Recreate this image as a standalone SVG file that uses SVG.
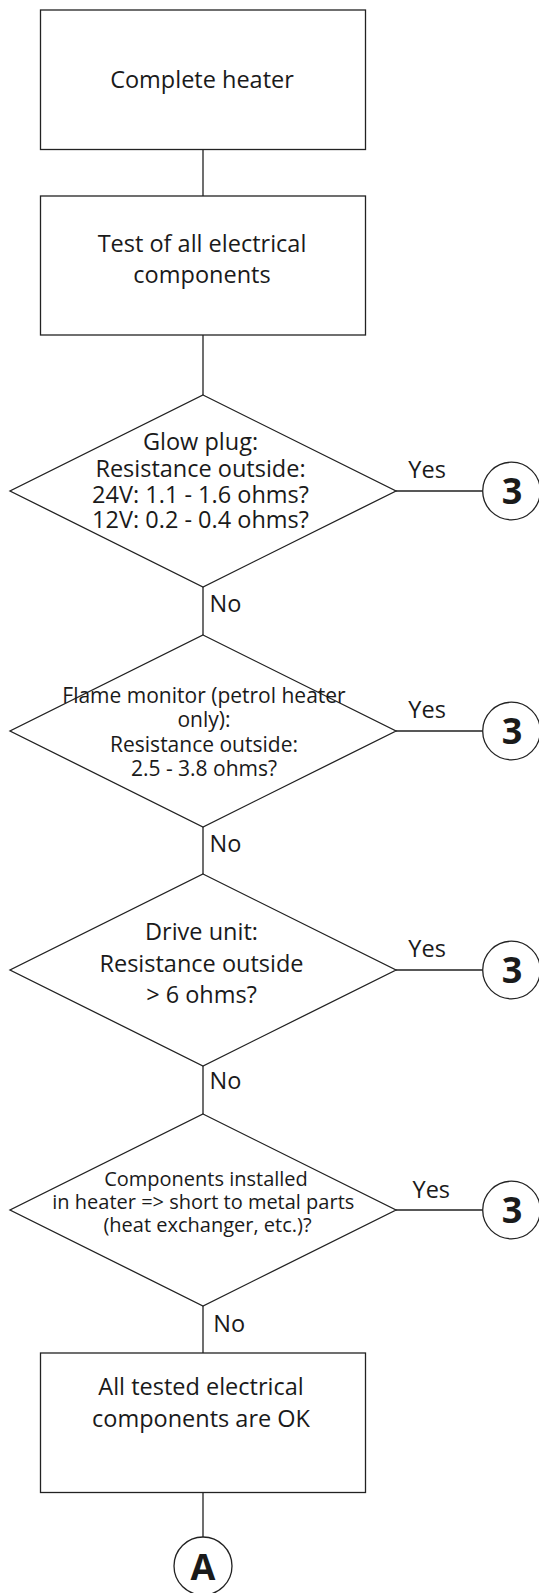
<svg xmlns="http://www.w3.org/2000/svg" width="539" height="1593" viewBox="0 0 539 1593">
<style>
.shape{fill:#fff;stroke:#222;stroke-width:1.3}
.conn{fill:none;stroke:#222;stroke-width:1.3}
text{font-family:"Open Sans","Noto Sans","DejaVu Sans",sans-serif;fill:#1a1a1a}
.t{font-size:23.5px;text-anchor:middle}
.s{font-size:21px;text-anchor:middle}
.xs{font-size:20px;text-anchor:middle}
.lbl{font-size:23.5px}
.num{font-size:36px;font-weight:bold;text-anchor:middle}
</style>
<rect width="539" height="1593" fill="#fff"/>
<g id="connectors">
<path class="conn" d="M203 149.5V196M203 335V395M203 587V635M203 827V874M203 1066V1114M203 1306V1353M203 1492.5V1537"/>
<path class="conn" d="M396 491H482.7M396 731H482.7M396 970H482.7M396 1210H482.7"/>
<text class="lbl" x="408.3" y="478.3">Yes</text>
<text class="lbl" x="408.3" y="718.3">Yes</text>
<text class="lbl" x="408.3" y="956.7">Yes</text>
<text class="lbl" x="412.5" y="1198.3">Yes</text>
<text class="lbl" x="209.5" y="611.5">No</text>
<text class="lbl" x="209.5" y="851.7">No</text>
<text class="lbl" x="209.5" y="1088.5">No</text>
<text class="lbl" x="213.3" y="1331.7">No</text>
</g>
<g id="box1">
<rect class="shape" x="40.5" y="10" width="325" height="139.5"/>
<text class="t" x="202" y="88.3">Complete heater</text>
</g>
<g id="box2">
<rect class="shape" x="40.5" y="196" width="325" height="139"/>
<text class="t" x="202" y="251.7">Test of all electrical</text>
<text class="t" x="202" y="283.3">components</text>
</g>
<g id="d1">
<path class="shape" d="M203 395L396 491L203 587L10 491Z"/>
<text class="t" x="200.5" y="450">Glow plug:</text>
<text class="t" x="200.5" y="476.7">Resistance outside:</text>
<text class="t" x="200.5" y="502.7">24V: 1.1 - 1.6 ohms?</text>
<text class="t" x="200.5" y="528.3">12V: 0.2 - 0.4 ohms?</text>
</g>
<g id="d2">
<path class="shape" d="M203 635L396 731L203 827L10 731Z"/>
<text class="s" x="204" y="703.3">Flame monitor (petrol heater</text>
<text class="s" x="204" y="727">only):</text>
<text class="s" x="204" y="751.7">Resistance outside:</text>
<text class="s" x="204" y="775.7">2.5 - 3.8 ohms?</text>
</g>
<g id="d3">
<path class="shape" d="M203 874L396 970L203 1066L10 970Z"/>
<text class="t" x="201.5" y="940">Drive unit:</text>
<text class="t" x="201.5" y="971.7">Resistance outside</text>
<text class="t" x="201.5" y="1003.3">&gt; 6 ohms?</text>
</g>
<g id="d4">
<path class="shape" d="M203 1114L396 1210L203 1306L10 1210Z"/>
<text class="xs" x="206" y="1186">Components installed</text>
<text class="xs" x="203.3" y="1209">in heater =&gt; short to metal parts</text>
<text class="xs" x="207.5" y="1232">(heat exchanger, etc.)?</text>
</g>
<g id="box3">
<rect class="shape" x="40.5" y="1353" width="325" height="139.5"/>
<text class="t" x="201" y="1395">All tested electrical</text>
<text class="t" x="201" y="1426.7">components are OK</text>
</g>
<g id="c1"><circle class="shape" cx="511.5" cy="491" r="28.8"/><text class="num" x="512" y="504">3</text></g>
<g id="c2"><circle class="shape" cx="511.5" cy="731" r="28.8"/><text class="num" x="512" y="744">3</text></g>
<g id="c3"><circle class="shape" cx="511.5" cy="970" r="28.8"/><text class="num" x="512" y="983">3</text></g>
<g id="c4"><circle class="shape" cx="511.5" cy="1210" r="28.8"/><text class="num" x="512" y="1223">3</text></g>
<g id="cA"><circle class="shape" cx="203" cy="1566" r="29"/><text class="num" x="203" y="1580">A</text></g>
</svg>
